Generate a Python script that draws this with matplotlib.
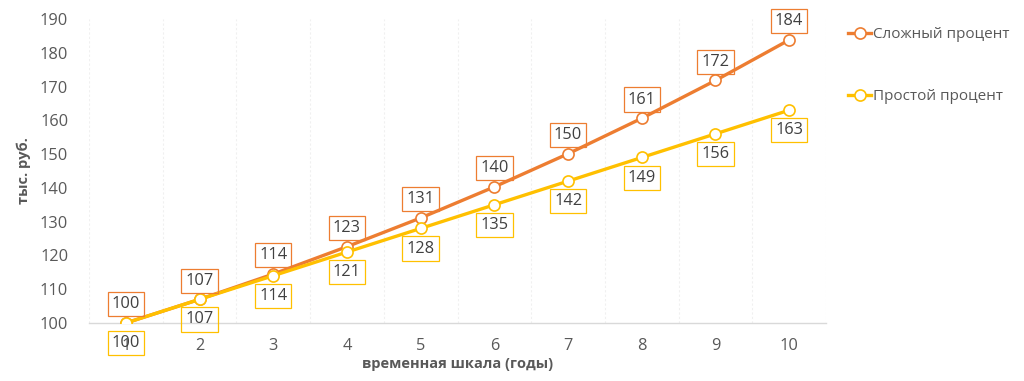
import matplotlib
matplotlib.use("Agg")
import matplotlib.pyplot as plt

plt.rcParams['font.family'] = ['Open Sans', 'DejaVu Sans']

years = [1, 2, 3, 4, 5, 6, 7, 8, 9, 10]
compound = [100, 107, 114.49, 122.6, 131.1, 140.3, 150.1, 160.6, 171.8, 183.8]
simple = [100, 107, 114, 121, 128, 135, 142, 149, 156, 163]
yticks = [100, 110, 120, 130, 140, 150, 160, 170, 180, 190]

ORANGE = '#ED7D31'
YELLOW = '#FFC000'
GRAY = '#595959'

fig = plt.figure(figsize=(10.24, 3.81), dpi=100)
ax = fig.add_axes([89/1024, 1-323/381, (826-89)/1024, (323-19)/381])

ax.plot(years, compound, color=ORANGE, lw=2.4, marker='o', ms=8,
        mfc='white', mec=ORANGE, mew=1.2, label='Сложный процент', zorder=3)
ax.plot(years, simple, color=YELLOW, lw=2.4, marker='o', ms=8,
        mfc='white', mec=YELLOW, mew=1.2, label='Простой процент', zorder=4)

for x, v in zip(years, compound):
    ax.annotate(f"{v:.0f}", (x, v), xytext=(0, 13.5), textcoords='offset points',
                ha='center', va='center', fontsize=11.8, color='#404040',
                bbox=dict(boxstyle='square,pad=0.25', fc='none', ec=ORANGE, lw=0.9),
                zorder=5, annotation_clip=False)
for x, v in zip(years, simple):
    ax.annotate(f"{v:.0f}", (x, v), xytext=(0, -14.5), textcoords='offset points',
                ha='center', va='center', fontsize=11.8, color='#404040',
                bbox=dict(boxstyle='square,pad=0.25', fc='none', ec=YELLOW, lw=0.9),
                zorder=5, annotation_clip=False)

ax.set_xlim(0.5, 10.5)
ax.set_ylim(100, 190)
ax.set_xticks(years)
ax.set_yticks(yticks)
ax.tick_params(axis='both', length=0, labelsize=11.8, labelcolor=GRAY)
ax.tick_params(axis='x', pad=11)
ax.tick_params(axis='y', pad=15)

for s in ['top', 'right', 'left']:
    ax.spines[s].set_visible(False)
ax.spines['bottom'].set_color('#D9D9D9')
ax.spines['bottom'].set_linewidth(1.0)

for b in [0.5 + i for i in range(11)]:
    ax.axvline(b, color='#F0F0F0', lw=0.8, ls=(0, (2, 2)), zorder=0)

ax.set_xlabel('временная шкала (годы)', fontsize=10.5, fontweight='bold', color=GRAY, labelpad=2)
ax.set_ylabel('тыс. руб.', fontsize=10.5, fontweight='bold', color=GRAY, labelpad=6)

leg = fig.legend(loc='upper left', bbox_to_anchor=(0.821, 0.949), frameon=False,
                 fontsize=11, labelcolor=GRAY, handlelength=1.5, handletextpad=0.1,
                 labelspacing=3.1, borderpad=0)

fig.savefig('out.png', dpi=100)
